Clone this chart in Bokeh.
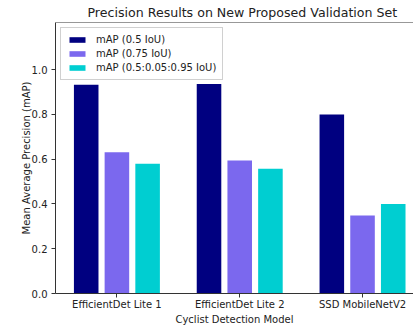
from bokeh.plotting import figure
from bokeh.models import ColumnDataSource, Range1d, FixedTicker, Legend, LegendItem, Span
from bokeh.transform import dodge
from bokeh.embed import file_html
from bokeh.resources import INLINE

models = ["EfficientDet Lite 1", "EfficientDet Lite 2", "SSD MobileNetV2"]
map_50 = [0.932, 0.935, 0.799]
map_75 = [0.631, 0.594, 0.348]
map_50_95 = [0.579, 0.557, 0.400]
series_names = ["mAP (0.5 IoU)", "mAP (0.75 IoU)", "mAP (0.5:0.05:0.95 IoU)"]
colors = ["#000080", "#7B68EE", "#00CED1"]
y_ticks = [0.0, 0.2, 0.4, 0.6, 0.8, 1.0]

FONT = "DejaVu Sans"
TXT = "#222222"
Y_TOP = 1.21

src = ColumnDataSource(dict(idx=list(range(len(models))), a=map_50, b=map_75, c=map_50_95))

p = figure(width=413, height=327, output_backend="svg", toolbar_location=None,
           x_range=Range1d(-0.5, 2.415), y_range=Range1d(0, Y_TOP),
           min_border_left=55, min_border_right=0, min_border_top=22, min_border_bottom=32)

p.title.text = "Precision Results on New Proposed Validation Set"
p.title.align = "left"
p.title.offset = 32
p.title.text_font = FONT
p.title.text_font_size = "12.6px"
p.title.text_font_style = "normal"
p.title.text_color = TXT
p.title.standoff = 5

renderers = []
for col, off, color in zip(["a", "b", "c"], [-0.25, 0.0, 0.25], colors):
    r = p.vbar(x=dodge("idx", off), top=col, width=0.2, source=src, color=color, line_color=None)
    renderers.append(r)

legend = Legend(items=[LegendItem(label=n, renderers=[r]) for n, r in zip(series_names, renderers)],
                location="top_left")
legend.label_text_font = FONT
legend.label_text_font_size = "10px"
legend.label_text_color = TXT
legend.glyph_width = 20
legend.glyph_height = 7
legend.label_height = 10
legend.label_standoff = 9
legend.spacing = 3
legend.padding = 6
legend.margin = 5
legend.border_line_color = "#d0d0d0"
legend.border_line_alpha = 1
legend.background_fill_alpha = 0.8
p.add_layout(legend)

p.grid.visible = False
p.outline_line_color = None
p.add_layout(Span(location=Y_TOP, dimension="width", line_color="#333333", line_width=1))

p.xaxis.ticker = FixedTicker(ticks=list(range(len(models))))
p.xaxis.major_label_overrides = {i: m for i, m in enumerate(models)}
p.yaxis.ticker = FixedTicker(ticks=y_ticks)
p.yaxis.major_label_overrides = {t: f"{t:.1f}" for t in y_ticks}
p.xaxis.axis_label = "Cyclist Detection Model"
p.yaxis.axis_label = "Mean Average Precision (mAP)"

for ax in (p.xaxis[0], p.yaxis[0]):
    ax.axis_label_text_font = FONT
    ax.axis_label_text_font_size = "10px"
    ax.axis_label_text_font_style = "normal"
    ax.axis_label_text_color = TXT
    ax.major_label_text_font = FONT
    ax.major_label_text_font_size = "10px"
    ax.major_label_text_color = TXT
    ax.minor_tick_line_color = None
    ax.major_tick_out = 4
    ax.major_tick_in = 0
    ax.axis_line_color = "#333333"
    ax.major_tick_line_color = "#333333"

p.xaxis.major_label_standoff = 1
p.xaxis.axis_label_standoff = 1
p.yaxis.major_label_standoff = 4
p.yaxis.axis_label_standoff = -3

open("out.html", "w").write(file_html(p, INLINE))
